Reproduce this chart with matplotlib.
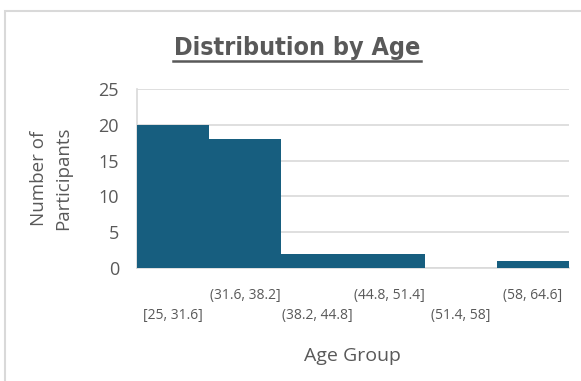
import numpy as np
import matplotlib.pyplot as plt
from matplotlib.patches import Rectangle

# Age bins and counts
bin_labels = ['[25, 31.6]', '(31.6, 38.2]', '(38.2, 44.8]', '(44.8, 51.4]', '(51.4, 58]', '(58, 64.6]']
counts = [20, 18, 2, 2, 0, 1]
y_ticks = [0, 5, 10, 15, 20, 25]

bar_color = '#175E7F'
text_color = '#595959'
grid_color = '#D9D9D9'

plt.rcParams['font.family'] = ['Open Sans', 'DejaVu Sans']

fig = plt.figure(figsize=(5.81, 3.81), dpi=100)
W, H = 581, 381
ax = fig.add_axes([137 / W, 1 - 268 / H, (569 - 137) / W, (268 - 89) / H])

x = np.arange(len(counts))
ax.bar(x, counts, width=1.0, color=bar_color, zorder=3)
ax.set_xlim(-0.5, len(counts) - 0.5)
ax.set_ylim(0, 25)
ax.set_yticks(y_ticks)
ax.yaxis.grid(True, color=grid_color, linewidth=1.2, zorder=0)
ax.tick_params(axis='y', length=0, labelsize=13, labelcolor=text_color, pad=13)
ax.tick_params(axis='x', length=0)
ax.set_xticks(x)
ax.set_xticklabels([])
for s in ['top', 'right']:
    ax.spines[s].set_visible(False)
ax.spines['left'].set_color(grid_color)
ax.spines['left'].set_linewidth(1.2)
ax.spines['bottom'].set_color(grid_color)
ax.spines['bottom'].set_linewidth(1.2)

# staggered category labels
for i, lab in enumerate(bin_labels):
    off = -48 if i % 2 == 0 else -28
    ax.annotate(lab, xy=(i, 0), xycoords='data', xytext=(0, off), textcoords='offset pixels',
                ha='center', va='center', fontsize=10, color=text_color)

fig.text(297 / W, 1 - 48 / H, 'Distribution by Age', ha='center', va='center',
         fontsize=18, fontweight='bold', fontstretch='condensed', color=text_color,
         family=['DejaVu Sans'])
# underline for the title
fig.add_artist(plt.Line2D([173 / W, 421 / W], [1 - 61 / H, 1 - 61 / H], color=text_color,
                          linewidth=1.8, transform=fig.transFigure))

fig.text(51 / W, 1 - 178 / H, 'Number of\nParticipants', ha='center', va='center',
         rotation=90, fontsize=13.5, color=text_color, linespacing=1.45)
fig.text(352 / W, 1 - 356 / H, 'Age Group', ha='center', va='center',
         fontsize=14, color=text_color)

# chart border
fig.add_artist(Rectangle((5 / W, -0.1), 1.2, 1 - 11 / H + 0.1, transform=fig.transFigure,
                         fill=False, edgecolor=grid_color, linewidth=1.5))

fig.savefig('out.png', dpi=100)
